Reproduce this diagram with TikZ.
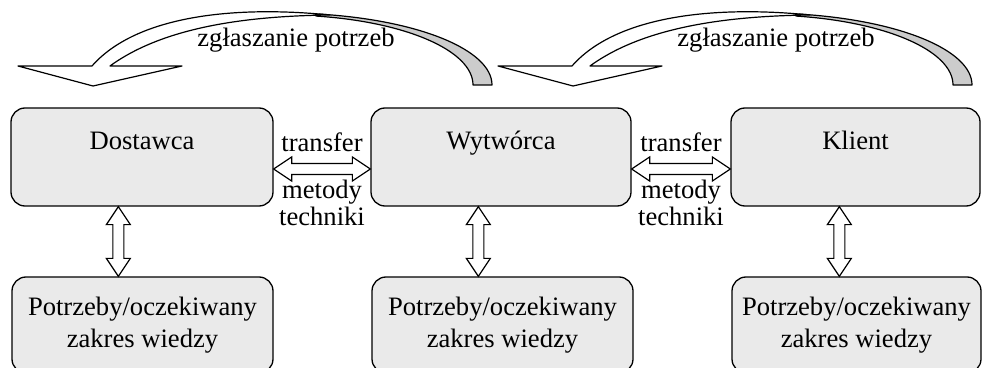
\documentclass[tikz,border=0pt]{standalone}
\usepackage{fontspec}
\setmainfont{Liberation Serif}
\usepackage{tikz}
\usetikzlibrary{
    calc,
    positioning
}
\definecolor{boxgray}{RGB}{234,234,234}
\definecolor{bandgray}{RGB}{204,204,204}
\tikzset{
    topbox/.style={draw, line width=1.3pt, rounded corners=14pt, fill=boxgray,
        minimum height=98pt, inner sep=0pt, text height=18pt, text depth=33pt},
    botbox/.style={draw, line width=1.3pt, rounded corners=14pt, fill=boxgray,
        minimum height=96pt, inner sep=0pt, align=center},
    blockarr/.style={draw, line width=1.2pt, fill=white, line join=miter},
    curvearr/.style={draw, line width=1.2pt, line join=round},
    lbl/.style={inner sep=0pt}
}
% hollow double-headed block arrow from #1 to #2
\newcommand{\dblarrow}[2]{%
    \draw[blockarr] (#1)
        -- ($(#1)!18pt!(#2)!12pt!90:(#2)$)
        -- ($(#1)!18pt!(#2)!5.5pt!90:(#2)$)
        -- ($(#2)!18pt!(#1)!5.5pt!-90:(#1)$)
        -- ($(#2)!18pt!(#1)!12pt!-90:(#1)$)
        -- (#2)
        -- ($(#2)!18pt!(#1)!12pt!90:(#1)$)
        -- ($(#2)!18pt!(#1)!5.5pt!90:(#1)$)
        -- ($(#1)!18pt!(#2)!5.5pt!-90:(#2)$)
        -- ($(#1)!18pt!(#2)!12pt!-90:(#2)$)
        -- cycle;}

\begin{document}
\begin{tikzpicture}[x=1pt, y=1pt, font=\fontsize{26.6}{32}\selectfont]
    \useasboundingbox (0,0) rectangle (982,367);
    \clip (0,0) rectangle (982,367);
    % curved arrows on top
    \foreach \dx/\nm in {0/zg1,480/zg2}{
        \begin{scope}[xshift=\dx pt]
            \draw[curvearr, fill=bandgray] (283,282) ++(80:209 and 72)
                arc[start angle=80, end angle=0, x radius=209, y radius=72]
                -- ++(-19,0)
                arc[start angle=0, end angle=80, x radius=190, y radius=70] -- cycle;
            \draw[curvearr, fill=white] (18,301) -- (92,301)
                .. controls (135,350) and (230,362) .. (330,352)
                .. controls (250,351) and (165,341) .. (110,301)
                -- (182,301) -- (93,281) -- cycle;
            \node[anchor=base] (\nm) at (296,320) {zgłaszanie potrzeb};
        \end{scope}
    }
    % boxes
    \node[topbox, minimum width=262pt] (dost) at (142,210) {Dostawca};
    \node[topbox, minimum width=260pt] (wytw) at (501,210) {Wytwórca};
    \node[topbox, minimum width=249pt] (klient) at (855.5,210) {Klient};
    \node[botbox, minimum width=261pt] (potr1) at (142.5,42) {Potrzeby/oczekiwany\\zakres wiedzy};
    \node[botbox, minimum width=261pt] (potr2) at (502.5,42) {Potrzeby/oczekiwany\\zakres wiedzy};
    \node[botbox, minimum width=249pt] (potr3) at (856.5,42) {Potrzeby/oczekiwany\\zakres wiedzy};
    % arrows between boxes
    \coordinate (h1a) at ($(dost.east)+(0,-12)$);
    \coordinate (h1b) at (h1a -| wytw.west);
    \coordinate (h2a) at ($(wytw.east)+(0,-12)$);
    \coordinate (h2b) at (h2a -| klient.west);
    \dblarrow{h1a}{h1b}
    \dblarrow{h2a}{h2b}
    \coordinate (v1a) at ($(dost.south west)+(108,0)$);
    \coordinate (v1b) at (v1a |- potr1.north);
    \coordinate (v2a) at ($(wytw.south west)+(108,0)$);
    \coordinate (v2b) at (v2a |- potr2.north);
    \coordinate (v3a) at ($(klient.south west)+(109,0)$);
    \coordinate (v3b) at (v3a |- potr3.north);
    \dblarrow{v1a}{v1b}
    \dblarrow{v2a}{v2b}
    \dblarrow{v3a}{v3b}
    % labels
    \node[lbl, anchor=base] (tr1) at (322,215) {transfer};
    \node[lbl, anchor=base] (tr2) at (681,215) {transfer};
    \node[lbl, align=center, anchor=north] (mt1) at (322,187) {metody\\[-5pt]techniki};
    \node[lbl, align=center, anchor=north] (mt2) at (681,187) {metody\\[-5pt]techniki};
\end{tikzpicture}
\end{document}
